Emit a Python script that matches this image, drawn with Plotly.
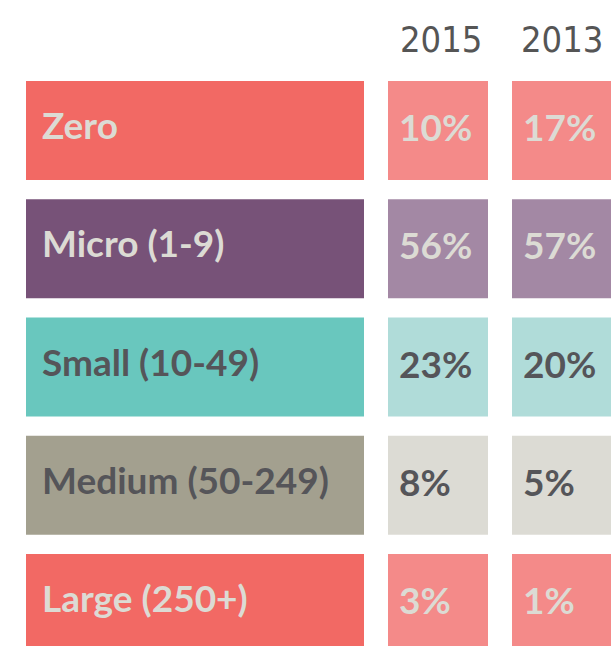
import plotly.graph_objects as go

# ---- data ----
categories = ["Zero", "Micro (1-9)", "Small (10-49)", "Medium (50-249)", "Large (250+)"]
years = ["2015", "2013"]
share_2015 = [10, 56, 23, 8, 3]
share_2013 = [17, 57, 20, 5, 1]

# ---- styles ----
main_colors = ["#F26964", "#775278", "#69C7BE", "#A3A08F", "#F26964"]
light_colors = ["#F48A89", "#A388A4", "#B0DCD9", "#DCDBD4", "#F48A89"]
text_colors = ["#DCDBD4", "#DCDBD4", "#555559", "#555559", "#DCDBD4"]

W, H = 611, 646
# column layout (pixel units on the x axis)
label_col = (26, 338)
year_cols = [(388, 100), (512, 100)]
header_centers = [441, 562]
row_pitch = 118.25
first_center = 130.5
bar_w = 99 / row_pitch

FONT_LABEL = "Lato"
fig = go.Figure()

fig.add_trace(go.Bar(
    y=categories, x=[label_col[1]] * len(categories), base=label_col[0],
    orientation="h", width=bar_w, marker=dict(color=main_colors, line=dict(width=0)),
    hoverinfo="skip", showlegend=False,
))
for (base, wid), vals in zip(year_cols, [share_2015, share_2013]):
    fig.add_trace(go.Bar(
        y=categories, x=[wid] * len(vals), base=base,
        orientation="h", width=bar_w, marker=dict(color=light_colors, line=dict(width=0)),
        hoverinfo="skip", showlegend=False,
    ))

annotations = []
for i, cat in enumerate(categories):
    annotations.append(dict(
        x=label_col[0] + 14, y=cat, xref="x", yref="y", text=cat, showarrow=False,
        xanchor="left", yanchor="middle", yshift=6,
        font=dict(family=FONT_LABEL, size=37, color=text_colors[i], weight="bold"),
    ))
    for (base, wid), vals in zip(year_cols, [share_2015, share_2013]):
        annotations.append(dict(
            x=base + 9, y=cat, xref="x", yref="y", text=f"{vals[i]}%", showarrow=False,
            xanchor="left", yanchor="middle", yshift=4,
            font=dict(family=FONT_LABEL, size=37, color=text_colors[i], weight="bold"),
        ))

for xc, yr in zip(header_centers, years):
    annotations.append(dict(
        x=xc, y=1 - 39 / H, xref="x", yref="paper",
        text=yr, showarrow=False, xanchor="center", yanchor="middle",
        font=dict(family="DejaVu Sans Condensed, Roboto", size=36, color="#555555", weight=200),
    ))

top_val = -first_center / row_pitch
bottom_val = top_val + H / row_pitch

fig.update_layout(
    width=W, height=H, margin=dict(l=0, r=0, t=0, b=0),
    paper_bgcolor="white", plot_bgcolor="white",
    barmode="overlay",
    xaxis=dict(range=[0, W], visible=False, fixedrange=True),
    yaxis=dict(range=[bottom_val, top_val], visible=False, fixedrange=True,
               categoryorder="array", categoryarray=categories),
    annotations=annotations,
)

fig.write_html("out.html", config={"displayModeBar": False, "staticPlot": True},
               post_script="document.body.style.margin='0';document.body.style.overflow='hidden';")
